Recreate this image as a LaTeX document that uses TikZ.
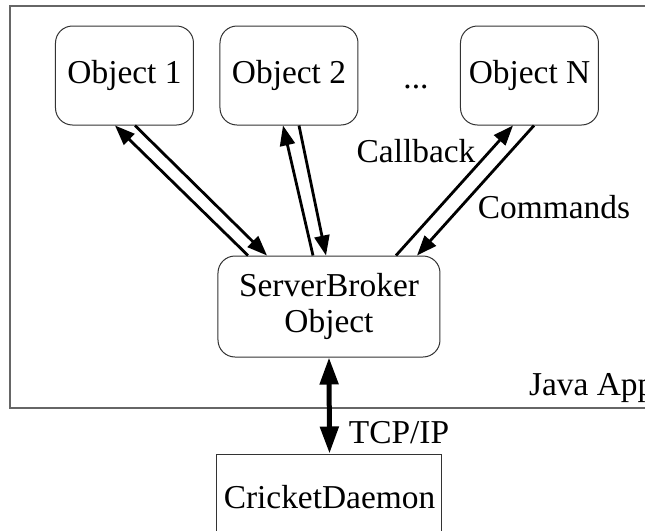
\documentclass[tikz,border=0pt]{standalone}
\usepackage{fontspec}
\setmainfont{Liberation Serif}
\usetikzlibrary{arrows.meta,calc}
\begin{document}
\begin{tikzpicture}[x=0.5pt,y=-0.5pt,>={Triangle[length=10pt,width=7.5pt]},
  font=\fontsize{16.7}{18}\selectfont,
  obj/.style={draw=black!80,line width=0.5pt,rounded corners=8.5pt,minimum width=69pt,minimum height=49.5pt,inner sep=0pt},
  msg/.style={->,line width=1.4pt}]
\clip (0,0) rectangle (645,531);
% Java application frame
\draw[black!60,line width=0.6pt] (10,6) rectangle (700,408);
\node[anchor=base west] (app) at (522,395) {Java App};
% objects
\node[obj] (obj1) at (124.5,75.5) {Object 1};
\node[obj] (obj2) at (289,75.5) {Object 2};
\node[anchor=base] (dots) at (416,88) {...};
\node[obj] (objN) at (529.5,75.5) {Object N};
\node[obj,minimum width=111pt,minimum height=50.5pt,align=center] (broker) at (329,306.5) {ServerBroker\\Object};
\node[draw=black!80,line width=0.5pt,minimum width=112.5pt,minimum height=43pt] (daemon) at (329.5,497) {CricketDaemon};
% callbacks and commands
\draw[msg] ($(broker.north)+(-81,0)$) -- ($(obj1.south)+(-9.5,0)$);
\draw[msg] ($(obj1.south)+(10.5,0)$) -- ($(broker.north)+(-62,0)$);
\draw[msg] ($(broker.north)+(-16,0)$) -- ($(obj2.south)+(-6,0)$);
\draw[msg] ($(obj2.south)+(10,0)$) -- ($(broker.north)+(-3,0)$);
\draw[msg] ($(broker.north)+(67,0)$) -- ($(objN.south)+(-16.5,0)$);
\draw[msg] ($(objN.south)+(4.5,0)$) -- ($(broker.north)+(88,0)$);
\node[] (cb) at (416,151) {Callback};
\node[] (cmd) at (554,207) {Commands};
% socket link
\draw[<->,line width=2.5pt,>={Triangle[length=13.5pt,width=9pt]}] (broker.south) -- (daemon.north);
\node[] (tcp) at (399,433) {TCP/IP};
\end{tikzpicture}
\end{document}
